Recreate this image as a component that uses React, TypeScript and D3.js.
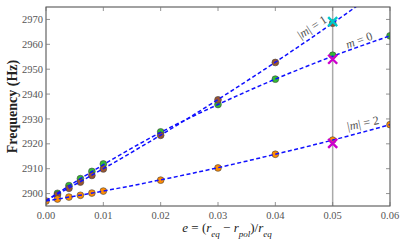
import React, { useEffect, useRef } from 'react';
import * as d3 from 'd3';

const W = 407;
const H = 244;

// measured points (e, frequency)
const eValues = [0.002, 0.004, 0.006, 0.008, 0.01, 0.02, 0.03, 0.04, 0.05, 0.06];
const freqM0 = [2900.1, 2903.2, 2906.0, 2908.9, 2911.9, 2924.8, 2935.8, 2946.0, 2955.6, 2963.4];
const eM1 = [0.002, 0.004, 0.006, 0.008, 0.01, 0.02, 0.03, 0.04, 0.05];
const freqM1 = [2899.5, 2902.1, 2904.6, 2907.3, 2909.9, 2923.4, 2937.7, 2952.7, 2968.5];
const eM2 = [0, 0.002, 0.004, 0.006, 0.008, 0.01, 0.02, 0.03, 0.04, 0.05, 0.06];
const freqM2 = [2897.0, 2897.8, 2898.6, 2899.3, 2900.2, 2901.0, 2905.4, 2910.3, 2915.8, 2921.5, 2927.7];

// dashed fit curves
const fitE = [0, 0.01, 0.02, 0.03, 0.04, 0.05, 0.06];
const fitM0 = [2897.2, 2911.6, 2924.6, 2935.8, 2946.0, 2955.2, 2963.4];
const fitM1 = [2897.2, 2910.0, 2923.5, 2937.8, 2952.8, 2968.5, 2985.0];
const fitM2 = [2897.0, 2901.0, 2905.5, 2910.4, 2915.8, 2921.5, 2927.7];

// reference values at e = 0.05
const crossE = 0.05;
const crossCyan = [2969.1];
const crossMagenta = [2954.0, 2920.2];

const xTicks = [0, 0.01, 0.02, 0.03, 0.04, 0.05, 0.06];
const yTicks = [2900, 2910, 2920, 2930, 2940, 2950, 2960, 2970];

const serif = '"Liberation Serif", "DejaVu Serif", serif';

export default function App() {
  const svgRef = useRef<SVGSVGElement>(null);

  useEffect(() => {
    const margin = { top: 7, right: 17, bottom: 38, left: 46 };
    const iw = W - margin.left - margin.right;
    const ih = H - margin.top - margin.bottom;

    const svg = d3.select(svgRef.current);
    svg.selectAll('*').remove();

    const x = d3.scaleLinear().domain([0, 0.06]).range([0, iw]);
    const y = d3.scaleLinear().domain([2895, 2975]).range([ih, 0]);

    svg.append('defs').append('clipPath').attr('id', 'plot-clip')
      .append('rect').attr('width', iw).attr('height', ih);

    const g = svg.append('g').attr('transform', `translate(${margin.left},${margin.top})`);

    // vertical reference line
    g.append('line')
      .attr('x1', x(crossE)).attr('x2', x(crossE))
      .attr('y1', 0).attr('y2', ih)
      .attr('stroke', '#aaa').attr('stroke-width', 1.5);

    const plot = g.append('g').attr('clip-path', 'url(#plot-clip)');

    const dot = (xs: number[], ys: number[], fill: string) => {
      plot.append('g').selectAll('circle')
        .data(xs.map((e, i) => [e, ys[i]]))
        .enter().append('circle')
        .attr('cx', d => x(d[0]))
        .attr('cy', d => y(d[1]))
        .attr('r', 3.4)
        .attr('fill', fill)
        .attr('stroke', '#444')
        .attr('stroke-width', 0.6);
    };
    dot(eValues, freqM0, '#33bb33');
    dot(eM1, freqM1, '#9a5530');
    dot(eM2, freqM2, '#ff8c00');

    const line = d3.line<number>()
      .x((d, i) => x(fitE[i]))
      .y(d => y(d))
      .curve(d3.curveMonotoneX);

    [fitM0, fitM1, fitM2].forEach(f => {
      plot.append('path')
        .attr('d', line(f))
        .attr('fill', 'none')
        .attr('stroke', '#1010ff')
        .attr('stroke-width', 1.5)
        .attr('stroke-dasharray', '4,2.5');
    });

    const cross = (vals: number[], color: string) => {
      vals.forEach(v => {
        const cx = x(crossE), cy = y(v), s = 4.5;
        g.append('path')
          .attr('d', `M${cx - s},${cy - s}L${cx + s},${cy + s}M${cx - s},${cy + s}L${cx + s},${cy - s}`)
          .attr('stroke', color)
          .attr('stroke-width', 2.4)
          .attr('fill', 'none');
      });
    };
    cross(crossCyan, '#00c8c8');
    cross(crossMagenta, '#cc00cc');

    // curve labels
    const label = (cx: number, cy: number, angle: number, parts: [string, boolean][]) => {
      const t = g.append('text')
        .attr('transform', `translate(${cx - margin.left},${cy - margin.top}) rotate(${angle})`)
        .attr('text-anchor', 'middle')
        .attr('dy', '0.35em')
        .style('font-family', serif)
        .style('font-size', '12px')
        .style('fill', '#555');
      parts.forEach(([s, it]) => t.append('tspan').style('font-style', it ? 'italic' : 'normal').text(s));
    };
    label(312, 27, -33, [['|', false], ['m', true], ['| = 1', false]]);
    label(359, 40, -20, [['m', true], [' = 0', false]]);
    label(363, 123, -12, [['|', false], ['m', true], ['| = 2', false]]);

    // frame
    g.append('rect')
      .attr('width', iw).attr('height', ih)
      .attr('fill', 'none').attr('stroke', '#444').attr('stroke-width', 1);

    const tl = 4;
    const ticks = g.append('g').attr('stroke', '#777').attr('stroke-width', 0.8);
    xTicks.forEach(t => {
      ticks.append('line').attr('x1', x(t)).attr('x2', x(t)).attr('y1', ih).attr('y2', ih - tl);
      ticks.append('line').attr('x1', x(t)).attr('x2', x(t)).attr('y1', 0).attr('y2', tl);
    });
    yTicks.forEach(t => {
      ticks.append('line').attr('x1', 0).attr('x2', tl).attr('y1', y(t)).attr('y2', y(t));
      ticks.append('line').attr('x1', iw).attr('x2', iw - tl).attr('y1', y(t)).attr('y2', y(t));
    });

    g.append('g').selectAll('text')
      .data(xTicks).enter().append('text')
      .attr('x', d => x(d)).attr('y', ih + 13)
      .attr('text-anchor', 'middle')
      .style('font-family', serif).style('font-size', '10.5px').style('fill', '#555')
      .text(d => d3.format('.2f')(d));

    g.append('g').selectAll('text')
      .data(yTicks).enter().append('text')
      .attr('x', -3).attr('y', d => y(d)).attr('dy', '0.35em')
      .attr('text-anchor', 'end')
      .style('font-family', serif).style('font-size', '10.5px').style('fill', '#555')
      .text(d => d);

    // axis titles
    svg.append('text')
      .attr('transform', `translate(17,${margin.top + ih / 2}) rotate(-90)`)
      .attr('text-anchor', 'middle')
      .style('font-family', serif).style('font-size', '14px').style('font-weight', 'bold')
      .style('fill', '#222')
      .text('Frequency (Hz)');

    const xt = svg.append('text')
      .attr('x', 227).attr('y', 232)
      .attr('text-anchor', 'middle')
      .style('font-family', serif).style('font-size', '13px').style('fill', '#222');
    const seg = (s: string, it = false, sub = false) => {
      const ts = xt.append('tspan').text(s).style('font-style', it ? 'italic' : 'normal');
      if (sub) ts.attr('baseline-shift', 'sub').style('font-size', '9px');
      return ts;
    };
    seg('e', true);
    seg(' = (');
    seg('r', true);
    seg('eq', true, true);
    seg(' − ');
    seg('r', true);
    seg('pol', true, true);
    seg(')/');
    seg('r', true);
    seg('eq', true, true);
  }, []);

  return (
    <svg
      ref={svgRef}
      width={W}
      height={H}
      style={{ position: 'absolute', left: 0, top: 0, background: '#fff' }}
    />
  );
}
